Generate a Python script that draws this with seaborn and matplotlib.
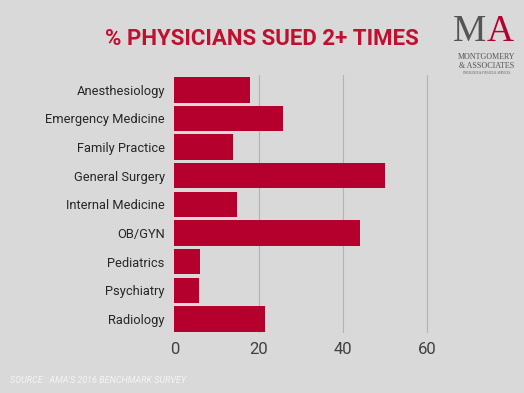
import pandas as pd
import numpy as np
import matplotlib
matplotlib.use("Agg")
import matplotlib.pyplot as plt
import seaborn as sns

sns.set_theme(style='white')

specialties = ['Anesthesiology', 'Emergency Medicine', 'Family Practice',
               'General Surgery', 'Internal Medicine', 'OB/GYN',
               'Pediatrics', 'Psychiatry', 'Radiology']
pct_sued = [18.0, 25.8, 13.9, 50.1, 14.8, 44.2, 6.1, 5.9, 21.4]
xticks = [0, 20, 40, 60]

df = pd.DataFrame({'Specialty': specialties, 'Pct': pct_sued})

bg = '#d9d9d9'
red = '#b5002d'

fig = plt.figure(figsize=(5.24, 3.93), dpi=100, facecolor=bg)
ax = fig.add_axes([0.333, 0.152, 0.53, 0.656])
ax.set_facecolor(bg)

sns.barplot(data=df, x='Pct', y='Specialty', color=red, saturation=1,
            width=0.89, linewidth=0, ax=ax, zorder=3)

ax.set_xlim(0, 66)
ax.set_ylim(8.5, -0.5)
ax.set_xticks(xticks)
ax.set_xticklabels([str(t) for t in xticks], fontsize=12, color='#404040',
                   family='Roboto')
ax.set_yticklabels(specialties, fontsize=9.3, color='#262626', family='Roboto')
ax.tick_params(axis='both', length=0)
ax.tick_params(axis='x', pad=6)
ax.tick_params(axis='y', pad=7)
ax.set_xlabel('')
ax.set_ylabel('')
for s in ax.spines.values():
    s.set_visible(False)
for t in xticks[1:]:
    ax.axvline(t, color='#b3b3b3', lw=0.8, zorder=1)

# title
fig.text(0.5, 0.9, '% PHYSICIANS SUED 2+ TIMES', ha='center', va='center',
         fontsize=16, fontweight='bold', color='#c0102f', family='Roboto')

# source note
fig.text(0.02, 0.033, "SOURCE:  AMA'S 2016 BENCHMARK SURVEY", fontsize=6.5,
         style='italic', color='#f4f4f4', family='Roboto', ha='left', va='center')

# logo
fig.text(486 / 524, 0.92, 'M', fontsize=27, color='#555555', family='Liberation Serif',
         ha='right', va='center')
fig.text(487 / 524, 0.92, 'A', fontsize=27, color=red, family='Liberation Serif',
         ha='left', va='center')
fig.text(0.928, 0.855, 'MONTGOMERY', fontsize=5.8, color='#555555',
         family='Liberation Serif', ha='center', va='center')
fig.text(0.928, 0.832, '& ASSOCIATES', fontsize=5.8, color='#555555',
         family='Liberation Serif', ha='center', va='center')
fig.text(0.928, 0.815, 'INSURANCE & FINANCIAL SERVICES', fontsize=2,
         color='#555555', family='Liberation Serif', ha='center', va='center')

fig.savefig('out.png', dpi=100, facecolor=bg)
